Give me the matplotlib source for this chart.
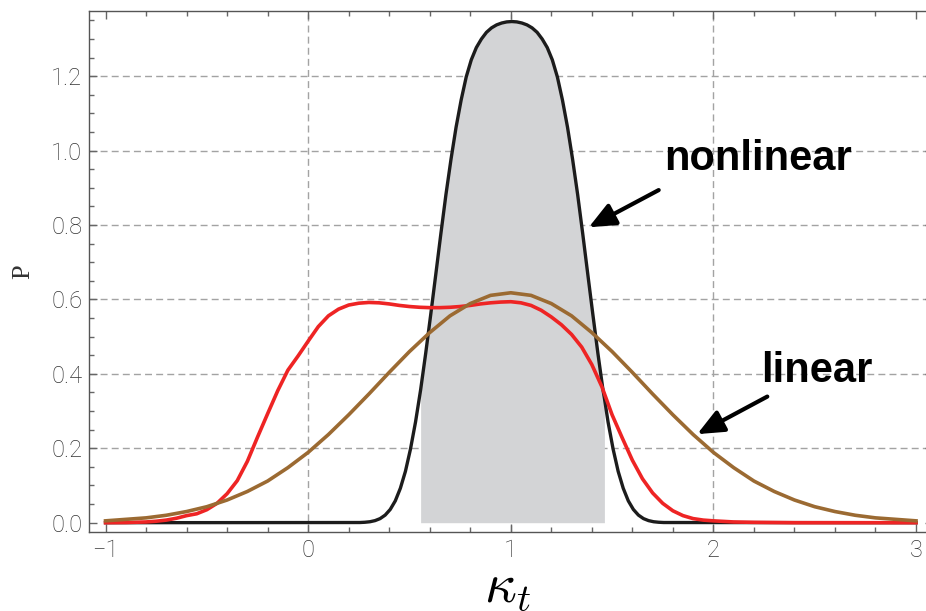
import numpy as np
import matplotlib
matplotlib.use("Agg")
import matplotlib.pyplot as plt

# ---- values ----
# nonlinear (black) curve
nl_x = [-1.0, 0.255, 0.28, 0.305, 0.33, 0.355, 0.38, 0.405, 0.43, 0.455, 0.48,
        0.505, 0.53, 0.555, 0.58, 0.605, 0.63, 0.655, 0.68, 0.705, 0.73, 0.755,
        0.78, 0.805, 0.83, 0.855, 0.88, 0.905, 0.93, 0.955, 0.98, 1.005,
        1.03, 1.055, 1.08, 1.105, 1.13, 1.155, 1.18, 1.205, 1.23, 1.255, 1.28,
        1.305, 1.33, 1.355, 1.38, 1.405, 1.43, 1.455, 1.462, 1.48, 1.505, 1.53,
        1.555, 1.58, 1.605, 1.63, 1.655, 1.68, 1.705, 1.73, 1.755, 3.0]
nl_p = [0.0, 0.0005, 0.0012, 0.0026, 0.0056, 0.011, 0.0204, 0.0356, 0.0587,
        0.0925, 0.138, 0.198, 0.271, 0.357, 0.455, 0.560, 0.668, 0.777, 0.882,
        0.977, 1.063, 1.136, 1.198, 1.244, 1.277, 1.300, 1.318, 1.330, 1.338,
        1.343, 1.346, 1.347,
        1.346, 1.343, 1.338, 1.330, 1.318, 1.300, 1.277, 1.244, 1.198, 1.136,
        1.063, 0.977, 0.882, 0.777, 0.668, 0.560, 0.455, 0.357, 0.335, 0.271,
        0.198, 0.138, 0.0925, 0.0587, 0.0356, 0.0204, 0.011, 0.0056, 0.0026,
        0.0012, 0.0005, 0.0]

# red curve
red_x = [-1.0, -0.9, -0.8, -0.75, -0.7, -0.65, -0.6, -0.55, -0.5, -0.45, -0.4,
         -0.35, -0.3, -0.25, -0.2, -0.15, -0.1, -0.05, 0.0, 0.05, 0.1, 0.15, 0.2,
         0.25, 0.3, 0.35, 0.4, 0.45, 0.5, 0.55, 0.6, 0.65, 0.7, 0.75, 0.8, 0.85,
         0.9, 0.95, 1.0, 1.05, 1.1, 1.15, 1.2, 1.25, 1.3, 1.35, 1.4, 1.45, 1.5,
         1.55, 1.6, 1.65, 1.7, 1.75, 1.8, 1.85, 1.9, 1.95, 2.0, 2.1, 2.2, 2.4, 3.0]
red_p = [0.0, 0.0005, 0.002, 0.004, 0.007, 0.012, 0.019, 0.024, 0.035, 0.052,
         0.078, 0.113, 0.165, 0.23, 0.293, 0.355, 0.41, 0.448, 0.488, 0.527,
         0.556, 0.574, 0.585, 0.590, 0.592, 0.591, 0.588, 0.584, 0.581, 0.579,
         0.578, 0.578, 0.579, 0.581, 0.584, 0.588, 0.591, 0.593, 0.594, 0.591,
         0.584, 0.571, 0.553, 0.532, 0.506, 0.472, 0.425, 0.365, 0.29, 0.228,
         0.168, 0.118, 0.08, 0.052, 0.032, 0.019, 0.011, 0.007, 0.005, 0.002,
         0.001, 0.0, 0.0]

# linear (brown) curve
lin_x = [-1.0, -0.9, -0.8, -0.7, -0.6, -0.5, -0.4, -0.3, -0.2, -0.1, 0.0, 0.1,
         0.2, 0.3, 0.4, 0.5, 0.6, 0.7, 0.8, 0.9, 1.0, 1.1, 1.2, 1.3, 1.4, 1.5,
         1.6, 1.7, 1.8, 1.9, 2.0, 2.1, 2.2, 2.3, 2.4, 2.5, 2.6, 2.7, 2.8, 2.9, 3.0]
lin_p = [0.005, 0.009, 0.013, 0.020, 0.030, 0.043, 0.061, 0.084, 0.112, 0.148,
         0.189, 0.237, 0.290, 0.346, 0.404, 0.460, 0.511, 0.556, 0.589, 0.611,
         0.618, 0.611, 0.589, 0.556, 0.511, 0.460, 0.404, 0.346, 0.290, 0.237,
         0.189, 0.148, 0.112, 0.084, 0.061, 0.043, 0.030, 0.020, 0.013, 0.009,
         0.005]

shade_lo, shade_hi = 0.555, 1.462
x_ticks = [-1, 0, 1, 2, 3]
y_ticks = [0.0, 0.2, 0.4, 0.6, 0.8, 1.0, 1.2]

plt.rcParams["font.family"] = ["Roboto", "DejaVu Sans"]
plt.rcParams["mathtext.fontset"] = "cm"

fig = plt.figure(figsize=(9.26, 6.11), dpi=100)
ax = fig.add_axes([0.0956, 0.1288, 0.912, 0.8524])

nl_x = np.array(nl_x)
nl_p = np.array(nl_p)
band = (nl_x >= shade_lo) & (nl_x <= shade_hi)
ax.fill_between(nl_x, 0, nl_p, where=band, color="#d3d4d6", lw=0, zorder=1)

# grid only on inner major ticks
for xv in x_ticks[1:-1]:
    ax.axvline(xv, color="#a3a3a3", lw=1.0, ls=(0, (5, 3)), zorder=0.5)
for yv in y_ticks[1:]:
    ax.axhline(yv, color="#a3a3a3", lw=1.0, ls=(0, (5, 3)), zorder=0.5)

ax.plot(nl_x, nl_p, color="#1c1c1c", lw=2.4, zorder=3, solid_joinstyle="round")
ax.plot(red_x, red_p, color="#ee2424", lw=2.6, zorder=4, solid_joinstyle="round")
ax.plot(lin_x, lin_p, color="#9b6a32", lw=2.6, zorder=5, solid_joinstyle="round")

ax.set_xlim(-1.084, 3.084)
ax.set_ylim(-0.0258, 1.374)
ax.set_xticks(x_ticks)
ax.set_xticklabels(["\u22121", "0", "1", "2", "3"])
ax.set_yticks(y_ticks)
ax.set_yticklabels([f"{v:.1f}" for v in y_ticks])
ax.set_xticks(np.arange(-1, 3.01, 0.2), minor=True)
ax.set_yticks(np.arange(0, 1.36, 0.05), minor=True)

ax.tick_params(which="both", direction="in", top=True, right=True,
               color="#666666", width=1.0)
ax.tick_params(which="major", length=6, labelsize=17, labelcolor="#333333", pad=4.5)
ax.tick_params(which="minor", length=3.5)
for lab in ax.get_xticklabels() + ax.get_yticklabels():
    lab.set_fontweight("light")
for s in ax.spines.values():
    s.set_color("#555555")
    s.set_linewidth(1.0)

ax.text(-0.077, 0.5, "P", transform=ax.transAxes, rotation=90,
        ha="center", va="center", fontsize=19, family="Liberation Serif",
        color="#333333")
ax.text(0.496, -0.133, r"$\kappa_t$", transform=ax.transAxes,
        ha="center", va="baseline", fontsize=40, color="black")

arrow = dict(arrowstyle="-|>,head_length=0.8,head_width=0.35", lw=3,
             color="black", shrinkA=0, shrinkB=0, mutation_scale=20)
ax.annotate("", xy=(1.385, 0.794), xytext=(1.730, 0.894), arrowprops=arrow, zorder=6)
ax.annotate("", xy=(1.920, 0.238), xytext=(2.266, 0.339), arrowprops=arrow, zorder=6)
ax.text(1.759, 0.948, "nonlinear", fontsize=30, fontweight="bold",
        family="Liberation Sans", ha="left", va="baseline")
ax.text(2.237, 0.379, "linear", fontsize=30, fontweight="bold",
        family="Liberation Sans", ha="left", va="baseline")

fig.savefig("out.png", dpi=100)
